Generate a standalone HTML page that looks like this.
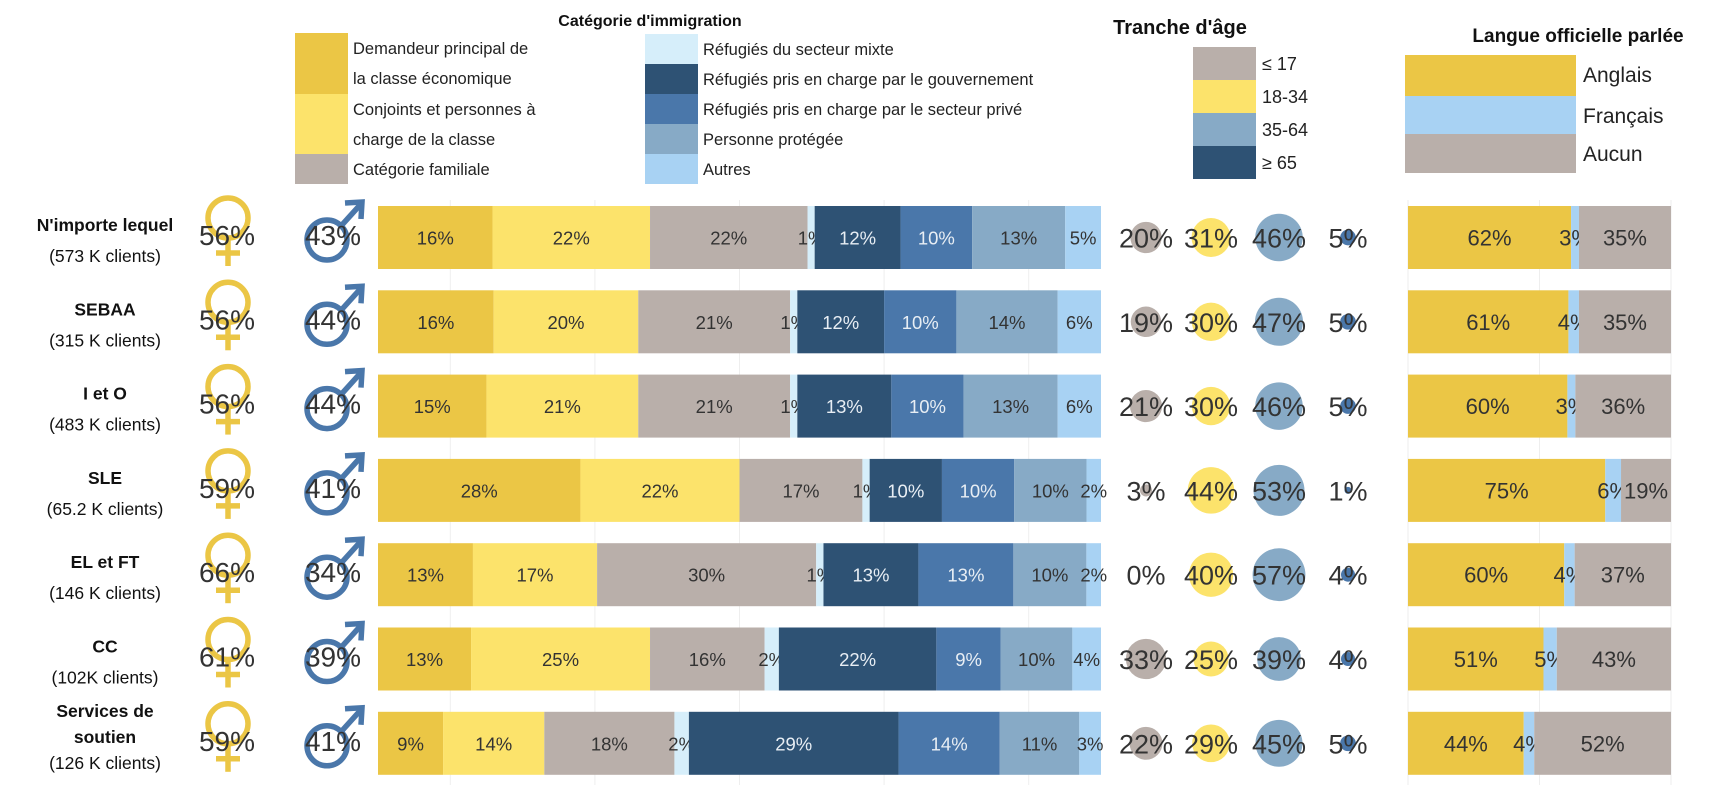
<!DOCTYPE html>
<html><head><meta charset="utf-8">
<style>
html,body{margin:0;padding:0;background:#fff;}
svg{display:block;font-family:"Liberation Sans",sans-serif;}
</style></head>
<body>
<svg id="chart" width="1728" height="792" viewBox="0 0 1728 792"></svg>
<script>
const categories = ["N'importe lequel|(573 K clients)","SEBAA|(315 K clients)","I et O|(483 K clients)","SLE|(65.2 K clients)","EL et FT|(146 K clients)","CC|(102K clients)","Services de|soutien|(126 K clients)"];
const femaleShare = [56,56,56,59,66,61,59];
const maleShare = [43,44,44,41,34,39,41];
const immigrationSeries = ["Demandeur principal de la classe économique","Conjoints et personnes à charge de la classe","Catégorie familiale","Réfugiés du secteur mixte","Réfugiés pris en charge par le gouvernement","Réfugiés pris en charge par le secteur privé","Personne protégée","Autres"];
const immigrationValues = [
 [16,22,22,1,12,10,13,5],
 [16,20,21,1,12,10,14,6],
 [15,21,21,1,13,10,13,6],
 [28,22,17,1,10,10,10,2],
 [13,17,30,1,13,13,10,2],
 [13,25,16,2,22,9,10,4],
 [9,14,18,2,29,14,11,3]];
const ageGroups = ["≤ 17","18-34","35-64","≥ 65"];
const ageValues = [
 [20,31,46,5],[19,30,47,5],[21,30,46,5],[3,44,53,1],[0,40,57,4],[33,25,39,4],[22,29,45,5]];
const languages = ["Anglais","Français","Aucun"];
const languageValues = [
 [62,3,35],[61,4,35],[60,3,36],[75,6,19],[60,4,37],[51,5,43],[44,4,52]];

const immColors=["#EBC645","#FCE36B","#B9AFAA","#D6EEFA","#2E5274","#4A77AA","#87AAC6","#A8D2F3"];
const ageColors=["#B9AFAA","#FCE36B","#87AAC6","#4A77AA"];
const ageSwatch=["#B9AFAA","#FCE36B","#87AAC6","#2E5274"];
const langColors=["#EBC645","#A8D2F3","#B9AFAA"];

const NS="http://www.w3.org/2000/svg";
const svg=document.getElementById('chart');
function mk(tag,attrs,parent){const e=document.createElementNS(NS,tag);for(const k in attrs)e.setAttribute(k,attrs[k]);(parent||svg).appendChild(e);return e;}
function txt(s,attrs,parent){const e=mk('text',attrs,parent);e.textContent=s;return e;}

const rowTop=i=>206+i*84.3;
const rowH=63;
const barX0=378, barX1=1101;
const xImm=p=>barX0+(barX1-barX0)*p/100;
const langX0=1408, langX1=1671;
const xLang=p=>langX0+(langX1-langX0)*p/100;
const ageCx=[1146,1211,1279,1348];
const rAge=v=>3.5*Math.sqrt(v);

[10,30,50,70,90].forEach(p=>{
  const l=mk('line',{x1:xImm(p),x2:xImm(p),y1:200,y2:785,stroke:'#eeeeee','stroke-width':1});
  
  
});
[0,50,100].forEach(p=>{
  const l=mk('line',{x1:xLang(p),x2:xLang(p),y1:200,y2:785,stroke:'#eeeeee','stroke-width':1});
  
  
});

const lg=mk('g',{});


txt("Catégorie d'immigration",{x:650,y:26,'font-size':16,'font-weight':'bold','text-anchor':'middle',fill:'#111'},lg);
const col1=[[33,94,["Demandeur principal de","la classe économique"]],[94,154,["Conjoints et personnes à","charge de la classe"]],[154,184,["Catégorie familiale"]]];
col1.forEach((c,i)=>{
  const r=mk('rect',{x:295,y:c[0],width:53,height:c[1]-c[0],fill:immColors[i]},lg);
  
  
  c[2].forEach((s,j)=>{const t=txt(s,{x:353,y:c[0]+21+j*30,'font-size':16.5,fill:'#222'},lg);});
});
for(let i=3;i<8;i++){
  const y=34+(i-3)*30;
  const r=mk('rect',{x:645,y:y,width:53,height:30,fill:immColors[i]},lg);
  
  
  const t=txt(immigrationSeries[i],{x:703,y:y+21,'font-size':16.5,fill:'#222'},lg);
  
  
}
const ag=mk('g',{});


txt("Tranche d'âge",{x:1180,y:34,'font-size':20,'font-weight':'bold','text-anchor':'middle',fill:'#111'},ag);
ageGroups.forEach((g,i)=>{
  const y=47+i*33;
  const r=mk('rect',{x:1193,y:y,width:63,height:33,fill:ageSwatch[i]},ag);
  
  
  const t=txt(g,{x:1262,y:y+23,'font-size':18,fill:'#222'},ag);
  
  
});
const lgl=mk('g',{});


txt("Langue officielle parlée",{x:1578,y:42,'font-size':19,'font-weight':'bold','text-anchor':'middle',fill:'#111'},lgl);
const langY=[55,96,134,173];
languages.forEach((g,i)=>{
  const r=mk('rect',{x:1405,y:langY[i],width:171,height:langY[i+1]-langY[i],fill:langColors[i]},lgl);
  
  
  const t=txt(g,{x:1583,y:langY[i]+27,'font-size':21,fill:'#222'},lgl);
  
  
});

categories.forEach((cat,i)=>{
  const T=rowTop(i);
  const g=mk('g',{});
  
  
  const lines=cat.split('|');
  const n=lines.length;
  lines.forEach((s,j)=>{
    const bold=j<n-1;
    const y=n===2?T+25+j*31:T+5+j*26;
    const t=txt(s,{x:105,y:y,'font-size':17.5,'font-weight':bold?'bold':'normal','text-anchor':'middle',fill:'#111'},g);
    
    
  });
  const fg=mk('g',{stroke:'#EBC645','stroke-width':5.5,fill:'none'},g);
  
  
  mk('circle',{cx:228,cy:T+12,r:20},fg);
  mk('line',{x1:228,y1:T+32,x2:228,y2:T+60},fg);
  mk('line',{x1:216,y1:T+47,x2:240,y2:T+47},fg);
  const ft=txt(femaleShare[i]+'%',{x:227,y:T+39,'font-size':28,'text-anchor':'middle',fill:'#333'},g);
  
  
  const mg=mk('g',{stroke:'#4A77AA','stroke-width':5.5,fill:'none'},g);
  
  
  mk('circle',{cx:327,cy:T+34,r:20},mg);
  mk('line',{x1:341,y1:T+20,x2:360,y2:T-1},mg);
  mk('polyline',{points:`${345},${T-3} ${362},${T-4} ${361},${T+13}`,'stroke-linejoin':'miter'},mg);
  const mt=txt(maleShare[i]+'%',{x:333,y:T+39,'font-size':28,'text-anchor':'middle',fill:'#333'},g);
  
  
  const vals=immigrationValues[i];
  const sum=vals.reduce((a,b)=>a+b,0);
  let acc=0;
  vals.forEach((v,k)=>{
    const x0=xImm(acc/sum*100), x1=xImm((acc+v)/sum*100);
    const r=mk('rect',{x:x0,y:T,width:Math.max(x1-x0,0),height:rowH,fill:immColors[k]},g);
    
    
    const t=txt(v+'%',{x:(x0+x1)/2,y:T+rowH/2+7,'font-size':18.5,'text-anchor':'middle',fill:(k===4||k===5)?'#e8eef4':'#333'},g);
    
    
    acc+=v;
  });
  ageValues[i].forEach((v,k)=>{
    if(v>0){
      const c=mk('circle',{cx:ageCx[k],cy:T+rowH/2,r:rAge(v),fill:ageColors[k]},g);
      
      
    }
    const t=txt(v+'%',{x:ageCx[k],y:T+rowH/2+10,'font-size':27,'text-anchor':'middle',fill:'#333'},g);
    
    
  });
  const lv=languageValues[i];
  const ls=lv.reduce((a,b)=>a+b,0);
  let la=0;
  lv.forEach((v,k)=>{
    const x0=xLang(la/ls*100), x1=xLang((la+v)/ls*100);
    const r=mk('rect',{x:x0,y:T,width:x1-x0,height:rowH,fill:langColors[k]},g);
    
    
    const t=txt(v+'%',{x:(x0+x1)/2,y:T+rowH/2+8,'font-size':22,'text-anchor':'middle',fill:'#333'},g);
    
    
    la+=v;
  });
});
</script>
</body></html>
